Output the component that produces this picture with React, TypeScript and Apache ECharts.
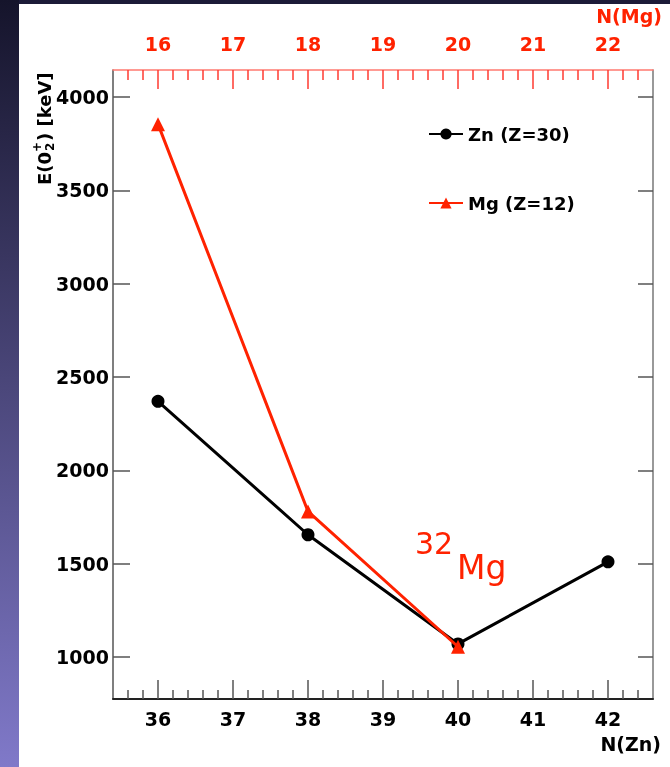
import React, { useEffect, useRef } from "react";
import * as echarts from "echarts";

// Data
const znN = [36, 38, 40, 42];
const znE = [2370, 1655, 1070, 1510];
const mgN = [16, 18, 20];
const mgE = [3855, 1780, 1055];

// Tick labels
const znTicks = [36, 37, 38, 39, 40, 41, 42];
const mgTicks = [16, 17, 18, 19, 20, 21, 22];
const eTicks = [1000, 1500, 2000, 2500, 3000, 3500, 4000];

const X_MIN = 35.4;
const X_MAX = 42.6;
const Y_MIN = 775;
const Y_MAX = 4145;
const MG_OFFSET = 20;

function minorList(min: number, max: number, step: number, majorStep: number): number[] {
  const out: number[] = [];
  const n = Math.round((max - min) / step);
  for (let i = 0; i <= n; i++) {
    const v = Math.round((min + i * step) * 1000) / 1000;
    const r = v / majorStep;
    if (Math.abs(r - Math.round(r)) < 1e-6) continue;
    if (v <= min + 1e-9 || v >= max - 1e-9) continue;
    out.push(v);
  }
  return out;
}

const FONT = "DejaVu Sans";
const RED = "#ff2200";

export default function App() {
  const ref = useRef<HTMLDivElement>(null);

  useEffect(() => {
    if (!ref.current) return;
    const chart = echarts.init(ref.current, undefined, { renderer: "svg" });

    const xMinor = minorList(X_MIN, X_MAX, 0.2, 1);
    const xMinorMg = xMinor.map((v) => Math.round((v - MG_OFFSET) * 1000) / 1000);
    const yMinor = minorList(Y_MIN, Y_MAX, 100, 500).filter((v) => v % 100 === 0);

    const labelStyle = {
      fontFamily: FONT,
      fontWeight: "bold" as const,
      fontSize: 19,
      color: "#000",
    };
    const plain = (v: number) => String(v);

    const baseX = {
      type: "value" as const,
      gridIndex: 0,
      min: X_MIN,
      max: X_MAX,
      splitLine: { show: false },
    };
    const baseXMg = {
      type: "value" as const,
      gridIndex: 0,
      min: X_MIN - MG_OFFSET,
      max: X_MAX - MG_OFFSET,
      splitLine: { show: false },
    };
    const baseY = {
      type: "value" as const,
      gridIndex: 0,
      min: Y_MIN,
      max: Y_MAX,
      splitLine: { show: false },
    };

    const option: any = {
      animation: false,
      grid: { left: 113, top: 70, right: 17, bottom: 68, containLabel: false },
      graphic: [
        { type: "rect", z: -100, silent: true, shape: { x: 0, y: 0, width: 670, height: 767 }, style: { fill: "#1c1b38" } },
        {
          type: "rect",
          z: -99,
          silent: true,
          shape: { x: 0, y: 0, width: 19, height: 767 },
          style: {
            fill: new echarts.graphic.LinearGradient(0, 0, 0, 1, [
              { offset: 0, color: "#15142b" },
              { offset: 1, color: "#8079c9" },
            ]),
          },
        },
        { type: "rect", z: -98, silent: true, shape: { x: 19, y: 4, width: 651, height: 763 }, style: { fill: "#ffffff" } },
        {
          type: "text",
          right: 8,
          top: 6,
          style: { text: "N(Mg)", fill: RED, font: `bold 19px "${FONT}"` },
        },
        {
          type: "text",
          right: 9,
          top: 734,
          style: { text: "N(Zn)", fill: "#000", font: `bold 19px "${FONT}"` },
        },
        {
          type: "group",
          x: 44,
          y: 185,
          rotation: Math.PI / 2,
          children: [
            { type: "text", x: 0, y: 0, style: { text: "E(0", fill: "#000", font: `bold 18px "${FONT}"`, align: "left", verticalAlign: "middle" } },
            { type: "text", x: 33, y: -7, style: { text: "+", fill: "#000", font: `bold 12px "${FONT}"`, align: "left", verticalAlign: "middle" } },
            { type: "text", x: 34, y: 6, style: { text: "2", fill: "#000", font: `bold 12px "${FONT}"`, align: "left", verticalAlign: "middle" } },
            { type: "text", x: 44, y: 0, style: { text: ") [keV]", fill: "#000", font: `bold 18px "${FONT}"`, align: "left", verticalAlign: "middle" } },
          ],
        },
        {
          type: "text",
          x: 415,
          y: 528,
          style: { text: "32", fill: RED, font: `30px "${FONT}"`, align: "left", verticalAlign: "top" },
        },
        {
          type: "text",
          x: 457,
          y: 551,
          style: { text: "Mg", fill: RED, font: `33px "${FONT}"`, align: "left", verticalAlign: "top" },
        },
      ],
      legend: {
        orient: "vertical",
        left: 428,
        top: 125,
        padding: 0,
        itemWidth: 34,
        itemHeight: 14,
        itemGap: 51,
        textStyle: { ...labelStyle, fontSize: 18 },
        data: ["Zn (Z=30)", "Mg (Z=12)"],
      },
      xAxis: [
        {
          ...baseX,
          position: "bottom",
          axisLine: { show: true, onZero: false, lineStyle: { color: "#222", width: 2 } },
          axisTick: { show: true, inside: true, length: 19, customValues: znTicks, lineStyle: { color: "#555", width: 1.5 } },
          axisLabel: { show: true, customValues: znTicks, margin: 10, formatter: plain, ...labelStyle },
        },
        {
          ...baseX,
          position: "bottom",
          axisLine: { show: false },
          axisTick: { show: true, inside: true, length: 9, customValues: xMinor, lineStyle: { color: "#555", width: 1.5 } },
          axisLabel: { show: false },
        },
        {
          ...baseXMg,
          position: "top",
          axisLine: { show: true, onZero: false, lineStyle: { color: "#ff7a70", width: 1.5 } },
          axisTick: { show: true, inside: true, length: 19, customValues: mgTicks, lineStyle: { color: "#ff3a30", width: 1.5 } },
          axisLabel: { show: true, customValues: mgTicks, margin: 17, formatter: plain, ...labelStyle, color: RED },
        },
        {
          ...baseXMg,
          position: "top",
          axisLine: { show: false },
          axisTick: { show: true, inside: true, length: 10, customValues: xMinorMg, lineStyle: { color: "#ff3a30", width: 1.5 } },
          axisLabel: { show: false },
        },
      ],
      yAxis: [
        {
          ...baseY,
          position: "left",
          axisLine: { show: true, onZero: false, lineStyle: { color: "#555", width: 1.5 } },
          axisTick: { show: true, inside: true, length: 17, customValues: eTicks, lineStyle: { color: "#555", width: 1.5 } },
          axisLabel: { show: true, customValues: eTicks, margin: 4, formatter: plain, ...labelStyle },
        },
        {
          ...baseY,
          position: "left",
          axisLine: { show: false },
          axisTick: { show: true, inside: true, length: 8, customValues: yMinor, lineStyle: { color: "#555", width: 1.5 } },
          axisLabel: { show: false },
        },
        {
          ...baseY,
          position: "right",
          axisLine: { show: true, onZero: false, lineStyle: { color: "#777", width: 1.5 } },
          axisTick: { show: true, inside: true, length: 15, customValues: eTicks, lineStyle: { color: "#555", width: 1.5 } },
          axisLabel: { show: false },
        },
        {
          ...baseY,
          position: "right",
          axisLine: { show: false },
          axisTick: { show: true, inside: true, length: 8, customValues: yMinor, lineStyle: { color: "#555", width: 1.5 } },
          axisLabel: { show: false },
        },
      ],
      series: [
        {
          name: "Zn (Z=30)",
          type: "line",
          xAxisIndex: 0,
          yAxisIndex: 0,
          data: znN.map((n, i) => [n, znE[i]]),
          symbol: "circle",
          symbolSize: 13,
          lineStyle: { color: "#000", width: 3 },
          itemStyle: { color: "#000" },
          z: 3,
        },
        {
          name: "Mg (Z=12)",
          type: "line",
          xAxisIndex: 2,
          yAxisIndex: 0,
          data: mgN.map((n, i) => [n, mgE[i]]),
          symbol: "triangle",
          symbolSize: 14,
          lineStyle: { color: RED, width: 3 },
          itemStyle: { color: RED },
          z: 4,
        },
      ],
    };

    chart.setOption(option);
    return () => chart.dispose();
  }, []);

  return (
    <div
      ref={ref}
      style={{ position: "fixed", left: 0, top: 0, width: 670, height: 767 }}
    />
  );
}
